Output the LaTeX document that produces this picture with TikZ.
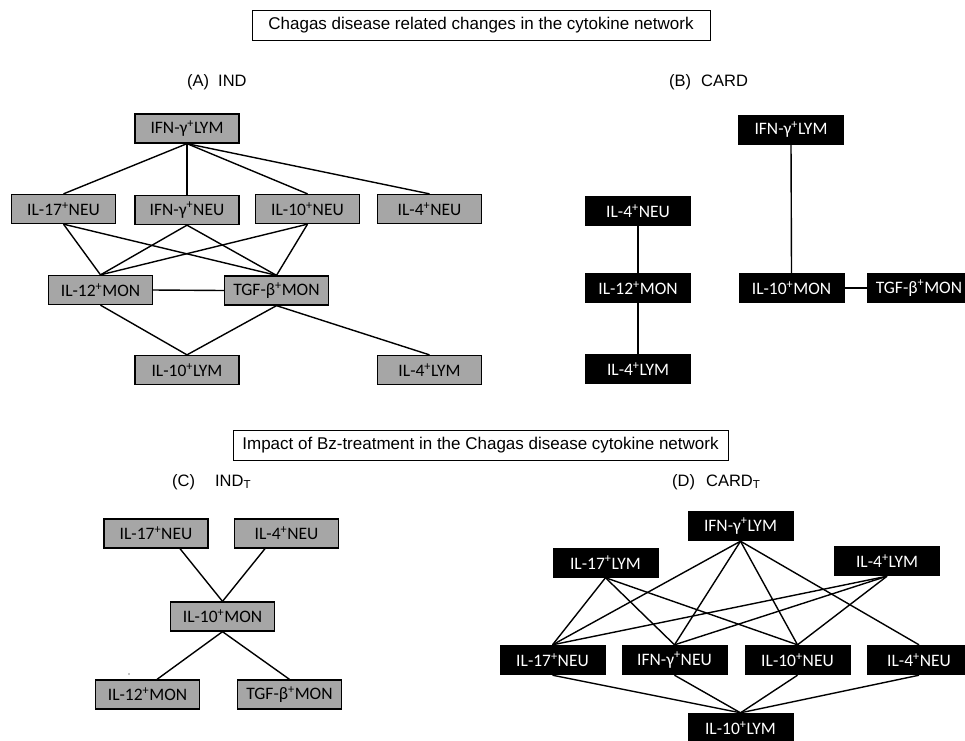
\documentclass[tikz,border=0pt]{standalone}
\usepackage{fontspec}
\setmainfont{Liberation Sans}
\newfontfamily\cfont{Carlito}
\usetikzlibrary{calc}
\definecolor{boxgray}{RGB}{166,166,166}
\begin{document}
\begin{tikzpicture}[x=1pt,y=-1pt,
  gbox/.style={draw=black, line width=1.3pt, fill=boxgray, minimum width=104pt, minimum height=29pt, inner sep=0pt, font=\cfont\fontsize{17.5}{20}\selectfont, text=black},
  bbox/.style={fill=black, minimum width=106pt, minimum height=30pt, inner sep=0pt, font=\cfont\fontsize{17.5}{20}\selectfont, text=white},
  edge/.style={line width=1.4pt, draw=black},
  titlebox/.style={draw=black, line width=1pt, minimum height=30pt, inner sep=0pt, font=\fontsize{17}{20}\selectfont},
  lab/.style={font=\fontsize{16.5}{20}\selectfont, anchor=west, inner sep=0pt}]
\fill[white] (0,0) rectangle (965,740);
\clip (0,0) rectangle (965,740);

% titles
\node[titlebox, minimum width=458pt] (t1) at (481,25.5) {Chagas disease related changes in the cytokine network};
\node[titlebox, minimum width=495pt] (t2) at (480.5,445.5) {Impact of Bz-treatment in the Chagas disease cytokine network};

\node[lab] (la) at (187,82) {(A)\hspace{9pt}IND};
\node[lab] (lb) at (669,82) {(B)\hspace{10pt}CARD};
\node[lab] (lc) at (172,482) {(C)\hspace{20pt}IND\textsubscript{T}};
\node[lab] (ld) at (672,482) {(D)\hspace{11pt}CARD\textsubscript{T}};

% (A)
\node[gbox] (a1) at (187,128.5) {IFN-γ\textsuperscript{+}LYM};
\node[gbox] (a2) at (63.5,209) {IL-17\textsuperscript{+}NEU};
\node[gbox] (a3) at (187,210) {IFN-γ\textsuperscript{+}NEU};
\node[gbox] (a4) at (307.5,209) {IL-10\textsuperscript{+}NEU};
\node[gbox] (a5) at (429.5,209) {IL-4\textsuperscript{+}NEU};
\node[gbox] (a6) at (100.5,290) {IL-12\textsuperscript{+}MON};
\node[gbox] (a7) at (276.5,290.5) {TGF-β\textsuperscript{+}MON};
\node[gbox] (a8) at (187,370) {IL-10\textsuperscript{+}LYM};
\node[gbox] (a9) at (429.5,370) {IL-4\textsuperscript{+}LYM};
\foreach \t in {a2,a3,a4,a5} \draw[edge] (a1.south) -- (\t.north);
\foreach \s in {a2,a3,a4} {\draw[edge] (\s.south) -- (a6.north); \draw[edge] (\s.south) -- (a7.north);}
\draw[edge] (a6.east) -- (a7.west);
\draw[edge] (a6.south) -- (a8.north);
\draw[edge] (a7.south) -- (a8.north);
\draw[edge] (a7.south) -- (a9.north);

% (B)
\node[bbox] (b1) at (791,129.5) {IFN-γ\textsuperscript{+}LYM};
\node[bbox] (b2) at (638,211) {IL-4\textsuperscript{+}NEU};
\node[bbox] (b3) at (638,288) {IL-12\textsuperscript{+}MON};
\node[bbox] (b4) at (638,369) {IL-4\textsuperscript{+}LYM};
\node[bbox] (b5) at (791.5,288) {IL-10\textsuperscript{+}MON};
\node[bbox, minimum width=104pt] (b6) at (919,288) {TGF-β\textsuperscript{+}MON};
\draw[edge] (b2.south) -- (b3.north);
\draw[edge] (b3.south) -- (b4.north);
\draw[edge] (b1.south) -- (b5.north);
\draw[edge] (b5.east) -- (b6.west);

% (C)
\node[gbox] (c1) at (156,533.5) {IL-17\textsuperscript{+}NEU};
\node[gbox] (c2) at (286.5,533.5) {IL-4\textsuperscript{+}NEU};
\node[gbox] (c3) at (222.5,616.5) {IL-10\textsuperscript{+}MON};
\node[gbox] (c4) at (147.5,694.5) {IL-12\textsuperscript{+}MON};
\node[gbox] (c5) at (289.5,694.5) {TGF-β\textsuperscript{+}MON};
\draw[edge] ([xshift=24pt]c1.south) -- (c3.north);
\draw[edge] ([xshift=-21.5pt]c2.south) -- (c3.north);
\draw[edge] (c3.south) -- ([xshift=9.5pt]c4.north);
\draw[edge] (c3.south) -- (c5.north);
\fill[black] (129,674) circle (0.6pt);

% (D)
\node[bbox] (d1) at (740.5,526) {IFN-γ\textsuperscript{+}LYM};
\node[bbox] (d2) at (605.5,562.5) {IL-17\textsuperscript{+}LYM};
\node[bbox] (d3) at (887,561) {IL-4\textsuperscript{+}LYM};
\node[bbox] (d4) at (552.5,660) {IL-17\textsuperscript{+}NEU};
\node[bbox] (d5) at (674.5,660) {IFN-γ\textsuperscript{+}NEU};
\node[bbox] (d6) at (797.5,660) {IL-10\textsuperscript{+}NEU};
\node[bbox, minimum width=104pt] (d7) at (919,660) {IL-4\textsuperscript{+}NEU};
\node[bbox] (d8) at (740.5,728) {IL-10\textsuperscript{+}LYM};
\foreach \t in {d4,d5,d6,d7} {\draw[edge] (d1.south) -- (\t.north); \draw[edge] (\t.south) -- (d8.north);}
\foreach \t in {d4,d5,d6} {\draw[edge] (d2.south) -- (\t.north); \draw[edge] (d3.south) -- (\t.north);}
\end{tikzpicture}
\end{document}
